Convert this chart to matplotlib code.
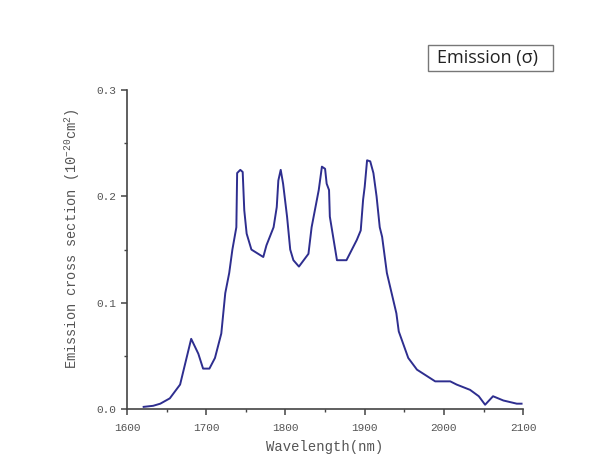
import matplotlib
matplotlib.use('Agg')
import matplotlib.pyplot as plt
from matplotlib.patches import Rectangle
from matplotlib.ticker import MultipleLocator, FormatStrFormatter

# Emission cross section values
wavelength = [1621, 1633, 1642, 1654, 1667, 1681, 1690, 1696, 1704, 1711,
              1719, 1724, 1729, 1733, 1738, 1739, 1743, 1746, 1748, 1751,
              1757, 1772, 1776, 1785, 1789, 1791, 1794, 1797, 1802, 1806,
              1810, 1817, 1829, 1833, 1842, 1846, 1850, 1852, 1855, 1856,
              1865, 1877, 1890, 1895, 1898, 1900, 1903, 1907, 1911, 1915,
              1919, 1922, 1928, 1940, 1943, 1955, 1966, 1989, 2008, 2016,
              2033, 2044, 2052, 2062, 2075, 2092, 2098]
sigma = [0.002, 0.003, 0.005, 0.010, 0.023, 0.066, 0.052, 0.038, 0.038, 0.048,
         0.071, 0.109, 0.128, 0.150, 0.171, 0.222, 0.225, 0.223, 0.187, 0.165,
         0.150, 0.143, 0.154, 0.171, 0.190, 0.215, 0.225, 0.212, 0.181, 0.150,
         0.140, 0.134, 0.146, 0.171, 0.206, 0.228, 0.226, 0.212, 0.206, 0.181,
         0.140, 0.140, 0.159, 0.168, 0.197, 0.209, 0.234, 0.233, 0.222, 0.200,
         0.171, 0.162, 0.128, 0.090, 0.073, 0.048, 0.037, 0.026, 0.026, 0.023,
         0.018, 0.012, 0.004, 0.012, 0.008, 0.005, 0.005]

plt.rcParams['font.family'] = 'Liberation Mono'
plt.rcParams['mathtext.fontset'] = 'custom'
plt.rcParams['mathtext.rm'] = 'Liberation Mono'
plt.rcParams['mathtext.it'] = 'Liberation Mono'

fig = plt.figure(figsize=(6.02, 4.72), dpi=100)
ax = fig.add_axes([0.211, 0.1335, 0.658, 0.6755])

ax.plot(wavelength, sigma, color='#2e2e8f', linewidth=1.4)

ax.set_xlim(1600, 2100)
ax.set_ylim(0, 0.3)
ax.xaxis.set_major_locator(MultipleLocator(100))
ax.xaxis.set_minor_locator(MultipleLocator(50))
ax.yaxis.set_major_locator(MultipleLocator(0.1))
ax.yaxis.set_minor_locator(MultipleLocator(0.05))
ax.yaxis.set_major_formatter(FormatStrFormatter('%.1f'))

for s in ['top', 'right']:
    ax.spines[s].set_visible(False)
for s in ['left', 'bottom']:
    ax.spines[s].set_color('#444444')
    ax.spines[s].set_linewidth(1.2)

ax.tick_params(which='both', direction='out', colors='#444444', labelcolor='#555555',
               labelsize=8)
ax.tick_params(which='major', length=4, width=1.1)
ax.tick_params(which='minor', length=2.5, width=1.0)
ax.tick_params(axis='x', which='major', pad=6)
ax.tick_params(axis='y', which='major', pad=4)

ax.set_xlabel('Wavelength(nm)', fontsize=10, color='#555555', labelpad=5)
ax.set_ylabel('Emission cross section (10$^{-20}$cm$^{2}$)', fontsize=9.8,
              color='#555555')
ax.yaxis.set_label_coords(-0.113, 0.533)

# legend-like label box, top right
fig.patches.append(Rectangle((0.711, 0.8496), 0.2076, 0.0551, transform=fig.transFigure,
                             facecolor='white', edgecolor='#777777', linewidth=1.0))
fig.text(0.726, 0.877, 'Emission (σ)', fontsize=13, family='Open Sans',
         color='#222222', ha='left', va='center')

plt.savefig('out.png', dpi=100, facecolor='white')
